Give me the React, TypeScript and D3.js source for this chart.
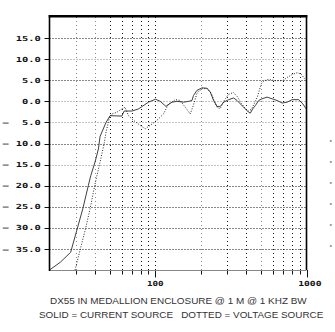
import React from "react";
import * as d3 from "d3";

const solidFreq = [20, 23.5, 27.6, 30.3, 33.2, 36.1, 37.5, 40, 42.1, 43.2, 47.3, 50.3, 60.1, 62.3, 70.1, 77.5, 90.2, 100.4, 107.9, 117.7, 128.9, 139.2, 153.8, 166.1, 174.9, 179.2, 188.7, 203.7, 219.8, 231.2, 243.2, 256.2, 269.3, 283.2, 305.6, 329.8, 347.4, 365.3, 394.2, 414.5, 425.4, 440.6, 459.2, 483, 508.6, 548.8, 592.2, 639.2, 689.8, 744.6, 803.6, 888.6, 944.6, 984, 1000];
const solidDb = [-40, -38.2, -35.8, -30.6, -25.5, -20, -17.6, -14.4, -11.3, -8.3, -5, -3.4, -3.5, -2.3, -2.3, -1.8, -0.2, 0.5, 0, -1.2, -0.2, 0, -0.2, 0, 0.2, 1.4, 2.6, 3.2, 3.1, 2.2, 0.2, -1.2, -1.2, -0.2, 0.4, 0.8, 0.2, -0.6, -1.8, -2.6, -2.8, -1.8, -1.0, 0.2, 0.6, 1.0, 0.6, 0.2, -0.4, -0.2, 0.4, 0.4, -0.6, -1.5, -1.8];

const dottedFreq = [29.5, 31.8, 34.4, 37.1, 40, 43.2, 45.9, 47.3, 49.8, 51.6, 55.7, 60.1, 63.2, 66.5, 71.8, 79.5, 85.8, 92.6, 102.6, 113.4, 122.4, 128.9, 135.6, 146.3, 158, 170.4, 178.4, 189.6, 204.7, 220.8, 234.7, 245.7, 257.2, 269.3, 286.2, 304.2, 328.3, 349, 371, 394.2, 412.8, 432, 452.2, 473.4, 503.2, 526.8, 559.8, 622.8, 693, 748, 807, 871, 926, 969, 1000];
const dottedDb = [-40, -35.4, -30.6, -25.5, -19.6, -14.4, -10.1, -7.3, -3.9, -3.0, -2.6, -1.8, -1.4, -3.4, -4.5, -5.7, -6.5, -5.7, -4.5, -3.0, -0.6, -0.2, 0.4, 0.2, -1.4, -3.0, -1.0, 2.1, 3.0, 3.0, 1.9, 0, -1.5, -1.7, 0.2, 1.6, 2.1, 1.1, -0.5, -1.7, -2.3, -1.9, -0.5, 1.1, 4.2, 4.9, 5.2, 4.9, 4.9, 5.7, 6.4, 6.8, 6.4, 5.4, 4.9];

const yTicks = [15, 10, 5, 0, -5, -10, -15, -20, -25, -30, -35];
const xGrid = [30, 40, 50, 60, 70, 80, 90, 100, 200, 300, 400, 500, 600, 700, 800, 900];
const xLabels = [100, 1000];
const grayX = [30, 40, 200, 500];
const grayY = [10, 0, -5, -15];
const titleLine1 = "DX55 IN MEDALLION ENCLOSURE @ 1 M @ 1 KHZ BW";
const titleLine2 = "SOLID = CURRENT SOURCE   DOTTED = VOLTAGE SOURCE";

export default function App() {
  const x = d3.scaleLog().domain([20, 1000]).range([49.5, 306.5]);
  const y = d3.scaleLinear().domain([-40, 20]).range([270, 17]);
  const line = d3
    .line<[number, number]>()
    .x((d) => x(d[0]))
    .y((d) => y(d[1]));
  const solid = solidFreq.map((f, i) => [f, solidDb[i]] as [number, number]);
  const dotted = dottedFreq.map((f, i) => [f, dottedDb[i]] as [number, number]);
  const [x0, x1] = x.range();
  const axisFont = "'DejaVu Sans Mono', monospace";

  return (
    <svg
      width={335}
      height={332}
      style={{ position: "absolute", left: 0, top: 0, background: "#fff" }}
    >
      <rect x={0} y={0} width={335} height={332} fill="#fff" />
      {yTicks.map((v) => (
        <line
          key={"hy" + v}
          x1={x0}
          x2={x1}
          y1={Math.round(y(v)) + 0.5}
          y2={Math.round(y(v)) + 0.5}
          stroke={grayY.includes(v) ? "#888" : "#111"}
          strokeWidth={1}
          strokeDasharray="1 2"
        />
      ))}
      {xGrid.map((f) => (
        <line
          key={"vx" + f}
          x1={Math.round(x(f)) + 0.5}
          x2={Math.round(x(f)) + 0.5}
          y1={17}
          y2={270}
          stroke={grayX.includes(f) ? "#888" : "#111"}
          strokeWidth={1}
          strokeDasharray="1 3"
        />
      ))}
      {yTicks.map((v) => (
        <line
          key={"ty" + v}
          x1={44.5}
          x2={49}
          y1={Math.round(y(v)) + 0.5}
          y2={Math.round(y(v)) + 0.5}
          stroke="#111"
          strokeWidth={1}
        />
      ))}
      {xGrid.concat([1000]).map((f) => (
        <line
          key={"tx" + f}
          x1={Math.round(x(f)) + 0.5}
          x2={Math.round(x(f)) + 0.5}
          y1={270}
          y2={f === 100 || f === 1000 ? 277.5 : 274.5}
          stroke="#111"
          strokeWidth={1}
        />
      ))}
      <path d={line(solid) || ""} fill="none" stroke="#2a2a2a" strokeWidth={0.9} />
      <path
        d={line(dotted) || ""}
        fill="none"
        stroke="#111"
        strokeWidth={0.9}
        strokeDasharray="1 1.6"
      />
      <line x1={x0} x2={x1} y1={270.5} y2={270.5} stroke="#888" strokeWidth={1} />
      <line x1={49.5} x2={49.5} y1={15} y2={271} stroke="#000" strokeWidth={1.6} />
      <line x1={306.5} x2={306.5} y1={15} y2={270} stroke="#000" strokeWidth={1.6} />
      <line x1={48.7} x2={307.3} y1={16.2} y2={16.2} stroke="#000" strokeWidth={2.6} />
      {yTicks.map((v) => {
        const s = Math.abs(v).toFixed(1);
        const yy = y(v) + 2.6;
        return (
          <g key={"ly" + v}>
            <text
              x={40.7}
              y={yy}
              textAnchor="end"
              fontFamily={axisFont}
              fontWeight="bold"
              fontSize={7}
              fill="#111"
              textLength={s.length * 6.25}
              lengthAdjust="spacingAndGlyphs"
            >
              {s}
            </text>
            {v < 0 && (
              <text
                x={2.7}
                y={yy}
                fontFamily={axisFont}
                fontWeight="bold"
                fontSize={7}
                fill="#111"
                textLength={5.8}
                lengthAdjust="spacingAndGlyphs"
              >
                –
              </text>
            )}
            {v <= -10 && (
              <text
                x={329}
                y={y(v) - 0.8}
                fontFamily={axisFont}
                fontWeight="bold"
                fontSize={7}
                fill="#333"
                textLength={3.5}
                lengthAdjust="spacingAndGlyphs"
              >
                -
              </text>
            )}
          </g>
        );
      })}
      {xLabels.map((f) => {
        const s = String(f);
        return (
          <text
            key={"lx" + f}
            x={x(f) - 8.3}
            y={286.3}
            fontFamily={axisFont}
            fontWeight="bold"
            fontSize={7}
            fill="#111"
            textLength={s.length === 3 ? 16.6 : 23.3}
            lengthAdjust="spacingAndGlyphs"
          >
            {s}
          </text>
        );
      })}
      <text
        x={50}
        y={303.6}
        fontFamily="'Liberation Sans', Arial, sans-serif"
        fontSize={9.2}
        fill="#333"
        textLength={256.7}
        lengthAdjust="spacingAndGlyphs"
        style={{ whiteSpace: "pre" }}
      >
        {titleLine1}
      </text>
      <text
        x={39}
        y={318}
        fontFamily="'Liberation Sans', Arial, sans-serif"
        fontSize={9.2}
        fill="#333"
        textLength={284.3}
        lengthAdjust="spacingAndGlyphs"
        style={{ whiteSpace: "pre" }}
      >
        {titleLine2}
      </text>
    </svg>
  );
}
